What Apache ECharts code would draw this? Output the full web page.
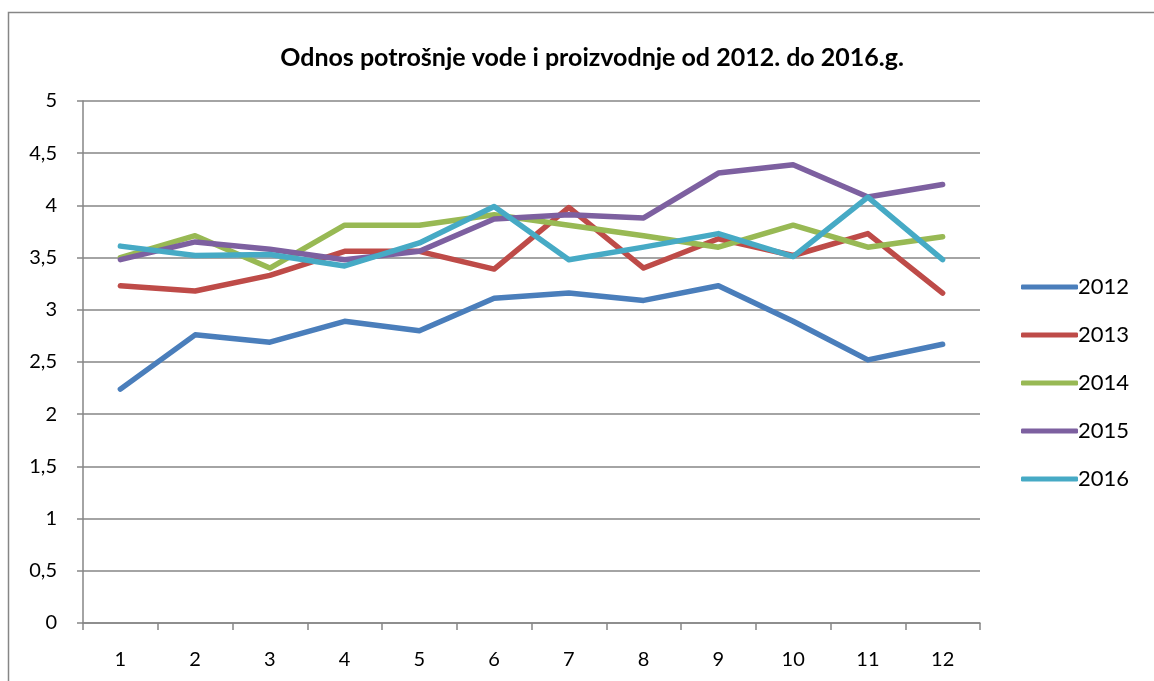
<!DOCTYPE html>
<html lang="hr">
<head>
    <meta charset="UTF-8">
    <title>Odnos potrošnje vode i proizvodnje</title>
    <script src="https://cdn.jsdelivr.net/npm/echarts@6/dist/echarts.min.js"></script>
    <style>
        html, body { margin: 0; padding: 0; background: #ffffff; }
        #chart { width: 1154px; height: 681px; }
    </style>
</head>
<body>
<div id="chart"></div>
<script>
    // mjeseci
    var months = ['1', '2', '3', '4', '5', '6', '7', '8', '9', '10', '11', '12'];
    var years = ['2012', '2013', '2014', '2015', '2016'];

    // vrijednosti procitane s grafa
    var y2012 = [2.24, 2.76, 2.69, 2.89, 2.80, 3.11, 3.16, 3.09, 3.23, 2.89, 2.52, 2.67];
    var y2013 = [3.23, 3.18, 3.33, 3.56, 3.56, 3.39, 3.98, 3.40, 3.68, 3.52, 3.73, 3.16];
    var y2014 = [3.50, 3.71, 3.40, 3.81, 3.81, 3.91, 3.81, 3.71, 3.60, 3.81, 3.60, 3.70];
    var y2015 = [3.48, 3.65, 3.58, 3.48, 3.56, 3.87, 3.91, 3.88, 4.31, 4.39, 4.08, 4.20];
    var y2016 = [3.61, 3.52, 3.53, 3.42, 3.64, 3.99, 3.48, 3.60, 3.73, 3.51, 4.08, 3.48];

    var colors = ['#4a7ebb', '#be4b48', '#98b954', '#7d60a0', '#46aac5'];
    var values = [y2012, y2013, y2014, y2015, y2016];

    var series = [];
    for (var i = 0; i < years.length; i++) {
        series.push({
            name: years[i],
            type: 'line',
            data: values[i],
            showSymbol: false,
            symbol: 'none',
            lineStyle: { width: 5.5, color: colors[i], cap: 'round', join: 'round' },
            itemStyle: { color: colors[i] }
        });
    }

    var option = {
        animation: false,
        color: colors,
        textStyle: { fontFamily: 'Lato, "Open Sans", sans-serif' },
        title: {
            text: 'Odnos potrošnje vode i proizvodnje od 2012. do 2016.g.',
            left: 587,
            textAlign: 'center',
            top: 40,
            textStyle: { fontSize: 25, fontWeight: 'bold', color: '#000' }
        },
        graphic: [{
            type: 'rect',
            shape: { x: 8.5, y: 12.5, width: 1200, height: 720 },
            style: { fill: 'none', stroke: '#868686', lineWidth: 1.5 },
            silent: true
        }],
        legend: {
            orient: 'vertical',
            left: 1016,
            top: 271,
            icon: 'roundRect',
            itemWidth: 57,
            itemHeight: 5,
            itemGap: 26,
            textStyle: { fontSize: 22, color: '#000', lineHeight: 22, padding: [0, 0, 0, -5] },
            data: years
        },
        grid: { left: 83, right: 174, top: 101, bottom: 58 },
        xAxis: {
            type: 'category',
            data: months,
            boundaryGap: true,
            axisLine: { lineStyle: { color: '#868686', width: 1.5 } },
            axisTick: { show: true, length: 7, lineStyle: { color: '#868686', width: 1.5 } },
            axisLabel: { fontSize: 20, color: '#000', margin: 27 }
        },
        yAxis: {
            type: 'value',
            min: 0,
            max: 5,
            interval: 0.5,
            axisLine: { show: true, lineStyle: { color: '#868686', width: 1.5 } },
            axisTick: { show: true, length: 6, lineStyle: { color: '#868686', width: 1.5 } },
            axisLabel: {
                fontSize: 20, color: '#000', margin: 26,
                formatter: function (v) { return String(v).replace('.', ','); }
            },
            splitLine: { lineStyle: { color: '#868686', width: 1.5 } }
        },
        series: series
    };

    var chart = echarts.init(document.getElementById('chart'));
    chart.setOption(option);
</script>
</body>
</html>
